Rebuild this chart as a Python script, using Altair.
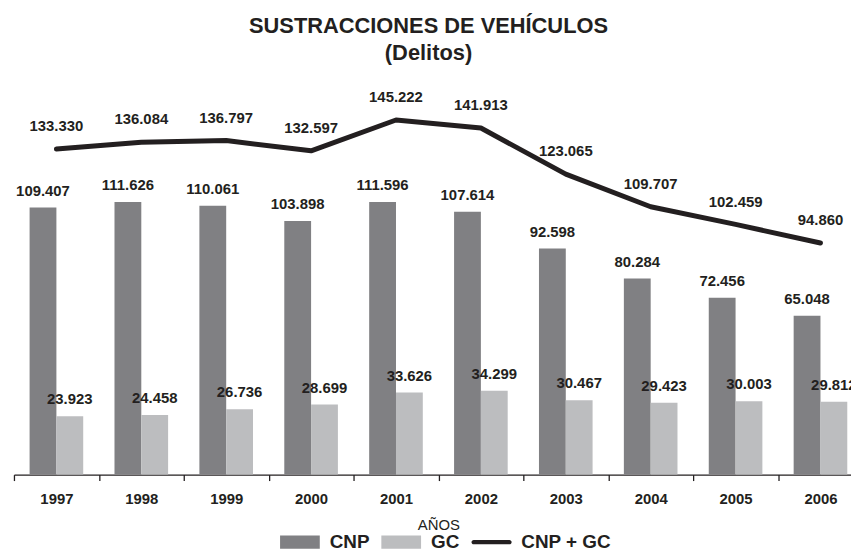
import altair as alt
import pandas as pd

years = ["1997", "1998", "1999", "2000", "2001", "2002", "2003", "2004", "2005", "2006"]
cnp = [109407, 111626, 110061, 103898, 111596, 107614, 92598, 80284, 72456, 65048]
gc = [23923, 24458, 26736, 28699, 33626, 34299, 30467, 29423, 30003, 29812]
total = [133330, 136084, 136797, 132597, 145222, 141913, 123065, 109707, 102459, 94860]
series_names = ["CNP", "GC", "CNP + GC"]

CNP_COL = "#808083"
GC_COL = "#bcbdbf"
LINE_COL = "#231f20"
FONT = "Liberation Sans"


def fmt(v):
    return f"{v:,}".replace(",", ".")


bar_rows = []
for y, a, b in zip(years, cnp, gc):
    bar_rows.append({"year": y, "series": "CNP", "value": a, "label": fmt(a)})
    bar_rows.append({"year": y, "series": "GC", "value": b, "label": fmt(b)})
bar_df = pd.DataFrame(bar_rows)
line_df = pd.DataFrame({"year": years, "series": "CNP + GC", "value": total,
                        "label": [fmt(v) for v in total]})
all_df = pd.concat([bar_df, line_df], ignore_index=True)

xscale = alt.Scale(range=[0, 855], paddingInner=0, paddingOuter=0)
yscale = alt.Scale(domain=[0, 160200], nice=False, zero=True)
color_scale = alt.Scale(domain=series_names, range=[CNP_COL, GC_COL, LINE_COL])
rect_path = "M-1,-0.33H1V0.33H-1Z"
line_path = "M-0.9,-0.11H0.9A0.11,0.11 0 0 1 0.9,0.11H-0.9A0.11,0.11 0 0 1 -0.9,-0.11Z"
shape_scale = alt.Scale(domain=series_names, range=[rect_path, rect_path, line_path])
off_scale = alt.Scale(domain=["CNP", "GC"], paddingInner=0, paddingOuter=0.5833)

x_axis = alt.Axis(
    title="AÑOS", labelAngle=0, tickBand="extent", domainColor=LINE_COL,
    tickColor=LINE_COL, tickSize=6, domainWidth=1.3, tickWidth=1.3,
    labelFont=FONT, labelFontSize=15, labelFontWeight="bold", labelColor=LINE_COL,
    labelPadding=11, titleFont=FONT, titleFontSize=15, titleFontWeight="normal",
    titleColor=LINE_COL, titlePadding=11,
)

leg = alt.Legend(
    title=None, orient="none", legendX=268, legendY=442, direction="horizontal",
    columns=3, symbolSize=1600, symbolOpacity=1, symbolStrokeWidth=0,
    labelFont=FONT, labelFontSize=19, labelFontWeight="bold", labelColor=LINE_COL,
    labelOffset=10, columnPadding=11, padding=0, labelLimit=300,
)

X = alt.X("year:N", scale=xscale, axis=x_axis, sort=years)
Y = alt.Y("value:Q", scale=yscale, axis=None)

bars = alt.Chart(bar_df).mark_bar().encode(
    x=X,
    xOffset=alt.XOffset("series:N", scale=off_scale),
    y=Y,
    color=alt.Color("series:N", scale=color_scale, legend=leg),
)

bar_text = alt.Chart(bar_df).mark_text(
    dy=-12, baseline="alphabetic", font=FONT, fontSize=15, fontWeight="bold", color=LINE_COL
).encode(
    x=X,
    xOffset=alt.XOffset("series:N", scale=off_scale),
    y=Y,
    text="label:N",
)

line = alt.Chart(line_df).mark_line(
    color=LINE_COL, strokeWidth=5, strokeCap="round", strokeJoin="round"
).encode(x=X, y=Y)

line_text = alt.Chart(line_df).mark_text(
    dy=-18, baseline="alphabetic", font=FONT, fontSize=15, fontWeight="bold", color=LINE_COL
).encode(x=X, y=Y, text="label:N")

legend_pts = alt.Chart(all_df).mark_point(filled=True, opacity=0).encode(
    x=X,
    y=Y,
    color=alt.Color("series:N", scale=color_scale, legend=leg),
    shape=alt.Shape("series:N", scale=shape_scale, legend=leg),
)

chart = alt.layer(bars, line, bar_text, line_text, legend_pts).properties(
    width=843,
    height=394,
    title=alt.TitleParams(
        text=["SUSTRACCIONES DE VEHÍCULOS", "(Delitos)"], font=FONT, fontSize=22,
        fontWeight="bold", color=LINE_COL, anchor="middle", lineHeight=27,
        offset=19, dx=-4,
    ),
    autosize=alt.AutoSizeParams(type="none"),
    padding={"left": 6, "top": 74, "right": 0, "bottom": 75},
    background="white",
).configure_view(stroke=None)

chart.save("out.html", embed_options={"renderer": "svg", "actions": False})
